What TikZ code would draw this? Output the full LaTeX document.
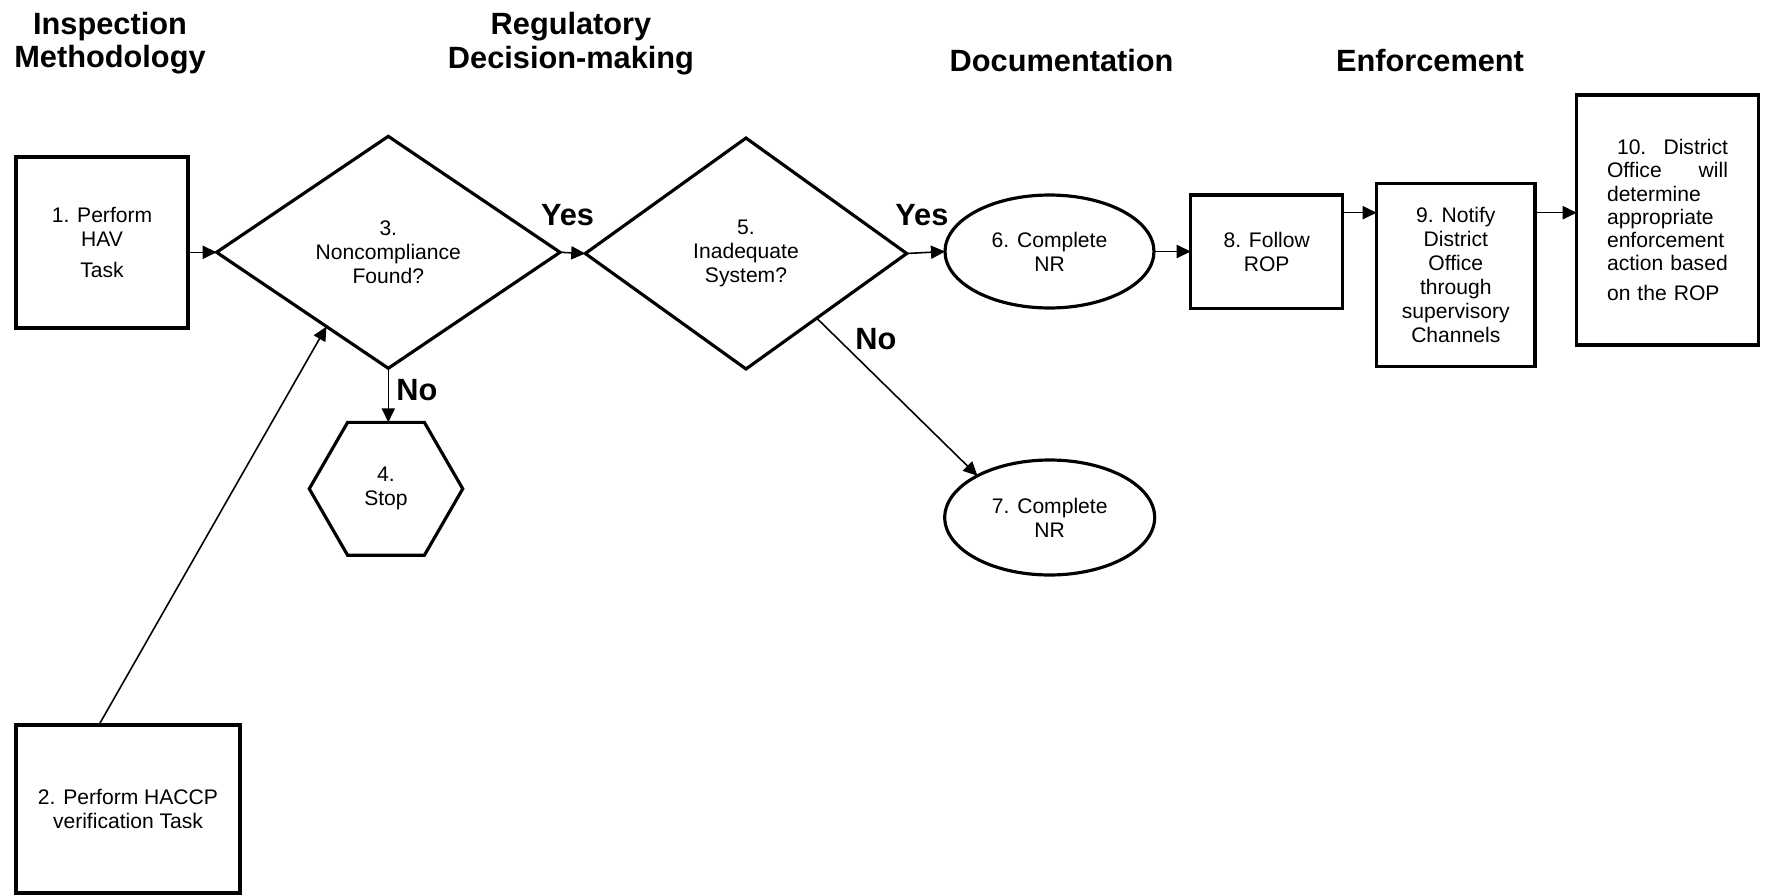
\documentclass[tikz,border=0pt]{standalone}
\usepackage{fontspec}
\setmainfont{Liberation Sans}
\usetikzlibrary{calc,arrows.meta,shapes.geometric}
\newcommand{\spread}{\hskip 0pt plus 1fill\relax}
\tikzset{
	flowline/.style={line width=1.8pt, draw, inner sep=0pt, outer sep=0pt, align=center, font=\fontsize{12}{13.7}\selectfont},
	taskbox/.style={flowline, rectangle},
	decision/.style={flowline, diamond},
	stopsign/.style={flowline, regular polygon, regular polygon sides=6},
	report/.style={flowline, ellipse},
	conn/.style={line width=0.9pt, -{Triangle[length=8pt,width=7.5pt]}},
	heading/.style={inner sep=0pt, align=center, font=\bfseries\fontsize{17.5}{19}\selectfont},
	answer/.style={inner sep=0pt, anchor=base west, font=\bfseries\fontsize{17.5}{19}\selectfont}
}

\begin{document}
\begin{tikzpicture}[x=0.02cm, y=-0.02cm]
		%%%%% START %%%%%
		\useasboundingbox (0, 0) rectangle (1768, 895);
		
		\node[heading, anchor=north] (h1) at (110, 11.7) {Inspection\\Methodology};
		\node[heading, anchor=north] (h2) at (571, 12) {Regulatory\\Decision-making};
		\node[heading, anchor=base] (h3) at (1061.6, 71.7) {Documentation};
		\node[heading, anchor=base] (h4) at (1430, 71.7) {Enforcement};
		
		\node[taskbox, minimum width=3.44cm, minimum height=3.42cm] (b1) at (102, 242.5) {1. Perform\\HAV\\[4pt]Task};
		\node[taskbox, minimum width=4.48cm, minimum height=3.36cm] (b2) at (128, 809) {2. Perform HACCP\\verification Task};
		
		\node[decision, minimum width=6.87cm, minimum height=4.64cm] (d3) at (388.3, 252.3) {3.\\Noncompliance\\Found?};
		\node[stopsign, minimum size=3.07cm] (s4) at (386, 488.8) {4.\\Stop};
		\node[decision, minimum width=6.43cm, minimum height=4.62cm] (d5) at (746, 253.5) {5.\\Inadequate\\System?};
		
		\node[report, minimum width=4.18cm, minimum height=2.26cm] (e6) at (1049.5, 251.5) {6. Complete\\NR};
		\node[report, minimum width=4.2cm, minimum height=2.3cm] (e7) at (1049.7, 517.5) {7. Complete\\NR};
		
		\node[taskbox, minimum width=3.04cm, minimum height=2.27cm] (b8) at (1266.7, 251.7) {8. Follow\\ROP};
		\node[taskbox, minimum width=3.17cm, minimum height=3.67cm] (b9) at (1455.8, 275) {9. Notify\\District\\Office\\through\\supervisory\\Channels};
		\node[taskbox, minimum width=3.63cm, minimum height=5cm, text width=2.42cm, align=left, font=\fontsize{12}{13.1}\selectfont] (b10) at (1667.5, 220) {\hspace*{0.2cm}10.\spread District\\Office\spread will\\determine\\appropriate\\enforcement\\action based\\[4pt]on the ROP};
		
		\node[answer] (yes1) at (540.7, 226) {Yes};
		\node[answer] (yes2) at (895, 226) {Yes};
		\node[answer] (no1) at (396, 400) {No};
		\node[answer] (no2) at (855, 349.3) {No};
		
		\coordinate (upper) at (0, 212.7);
		
		\draw[conn] (b1.east |- d3.west) -- (d3.west);
		\draw[conn] (d3.east) -- (d5.west);
		\draw[conn] (d5.east) -- (e6.west);
		\draw[conn] (e6.east) -- (b8.west |- e6.east);
		\draw[conn] (b8.east |- upper) -- (b9.west |- upper);
		\draw[conn] (b9.east |- upper) -- (b10.west |- upper);
		\draw[conn] (d3.south) -- (d3.south |- s4.north);
		\draw[conn] ($(b2.north west)!0.37!(b2.north east)$) -- ($(d3.west)!0.64!(d3.south)$);
		\draw[conn] ($(d5.east)!0.56!(d5.south)$) -- (e7.150);
		%%%%% END %%%%%
	\end{tikzpicture}
\end{document}
